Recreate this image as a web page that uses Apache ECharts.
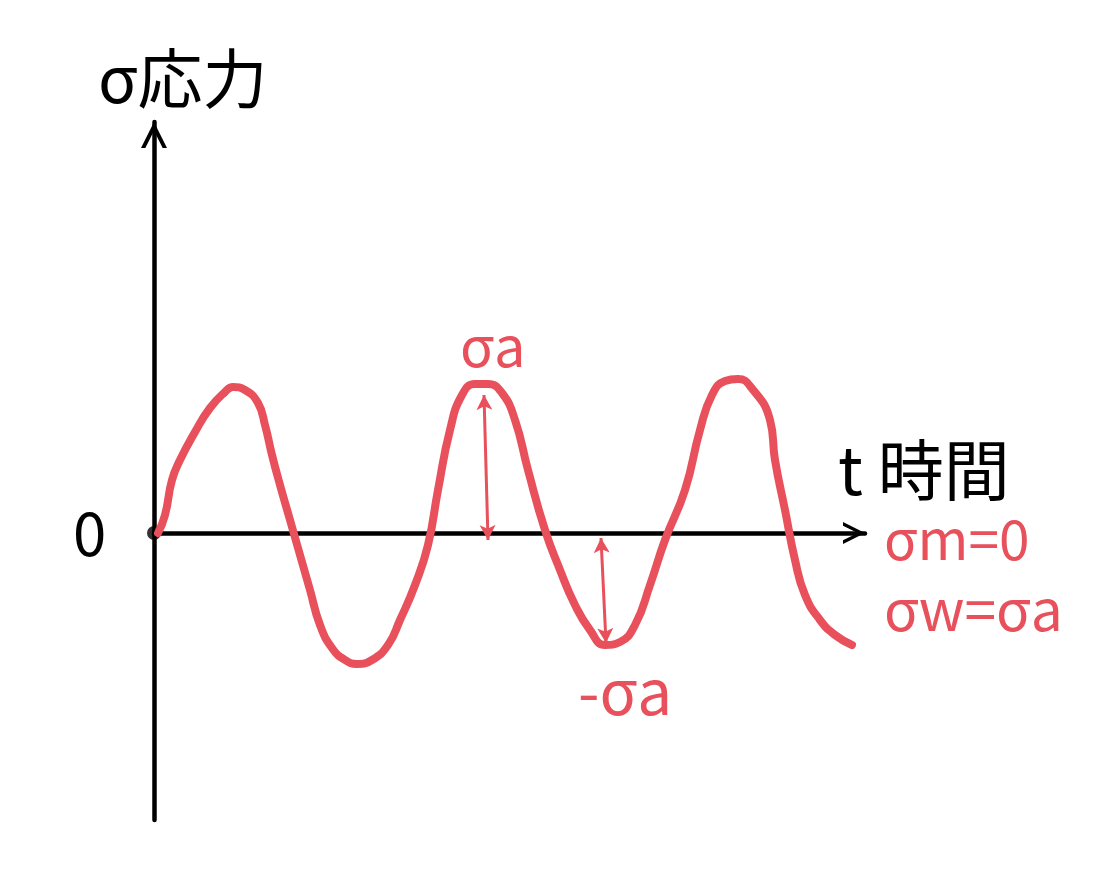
<!DOCTYPE html>
<html>
<head>
<meta charset="utf-8">
<style>html,body{margin:0;padding:0;background:#fff}#c{width:1096px;height:874px}</style>
<script src="https://cdn.jsdelivr.net/npm/echarts@6/dist/echarts.min.js"></script>
</head>
<body>
<div id="c"></div>
<script>
var timeValues = [4,11,18,26,41,56,71,79,91,104,111,118,126,136,146,156,166,178,191,203,218,234,246,261,274,284,296,308,321,334,348,361,374,391,406,421,436,451,466,481,496,511,531,546,558,571,584,596,616,621,631,641,651,666,681,698];
var stressValues = [0,18,53,73,101,125,141,146,143,130,108,78,48,13,-22,-57,-92,-115,-127,-131,-127,-112,-87,-52,-12,43,103,138,149,149,140,113,63,3,-37,-72,-97,-112,-109,-92,-52,-7,43,103,138,152,154,147,113,73,23,-27,-62,-87,-102,-112];
var arrowTopTimes = [330,447];
var arrowBottomTimes = [334,452];
var arrowTopStress = [138,-5];
var arrowBottomStress = [-7,-110];
var axisTitleY = 'σ応力';
var axisTitleX = 't 時間';
var originLabel = '0';
var noteMean = 'σm=0';
var noteAlt = 'σw=σa';
var peakLabel = 'σa';
var troughLabel = '-σa';

var RED = '#E8505B';
var chevron = 'path://M0 12 L6 0 L12 12 L10 12 L6 4 L2 12 Z';
var chart = echarts.init(document.getElementById('c'), null, {renderer:'canvas'});
function txt(x,y,t,size,color){
  return {type:'text',left:x,top:y,style:{text:t,fontSize:size,fill:color,fontFamily:'"Noto Sans CJK JP","Noto Sans",sans-serif'}};
}
function axisLine(size,off){
  return {show:true,onZero:true,symbol:['none',chevron],symbolSize:size,symbolOffset:[0,off],lineStyle:{color:'#000',width:4.5,cap:'round'}};
}
chart.setOption({
  animation:false,
  backgroundColor:'#fff',
  grid:{left:154,right:231,top:122,bottom:54,containLabel:false},
  xAxis:{type:'value',min:0,max:711,axisLine:axisLine([30,22],-11),axisTick:{show:false},axisLabel:{show:false},splitLine:{show:false}},
  yAxis:{type:'value',min:-287,max:411,axisLine:axisLine([40,26],-13),axisTick:{show:false},axisLabel:{show:false},splitLine:{show:false}},
  series:[
    {type:'line',smooth:0.5,showSymbol:false,clip:false,
     data:timeValues.map(function(t,i){return [t,stressValues[i]];}),
     lineStyle:{color:RED,width:8,cap:'round',join:'round'},
     markLine:{silent:true,symbol:['arrow','arrow'],symbolSize:[12,15],label:{show:false},
       lineStyle:{color:RED,width:3,type:'solid'},
       emphasis:{disabled:true},
       data:arrowTopTimes.map(function(t,i){return [{coord:[t,arrowTopStress[i]]},{coord:[arrowBottomTimes[i],arrowBottomStress[i]]}];})}
    },
    {type:'scatter',symbolSize:14,clip:false,itemStyle:{color:'#000'},data:[[0,0]]}
  ],
  graphic:[
    txt(98,46,axisTitleY,65,'#000'),
    txt(73,503,originLabel,60,'#000'),
    txt(838,437,axisTitleX,66,'#000'),
    txt(884,512,noteMean,55,RED),
    txt(884,581,noteAlt,57,RED),
    txt(460,318,peakLabel,56,RED),
    txt(578,660,troughLabel,62,RED)
  ]
});
</script>
</body>
</html>
